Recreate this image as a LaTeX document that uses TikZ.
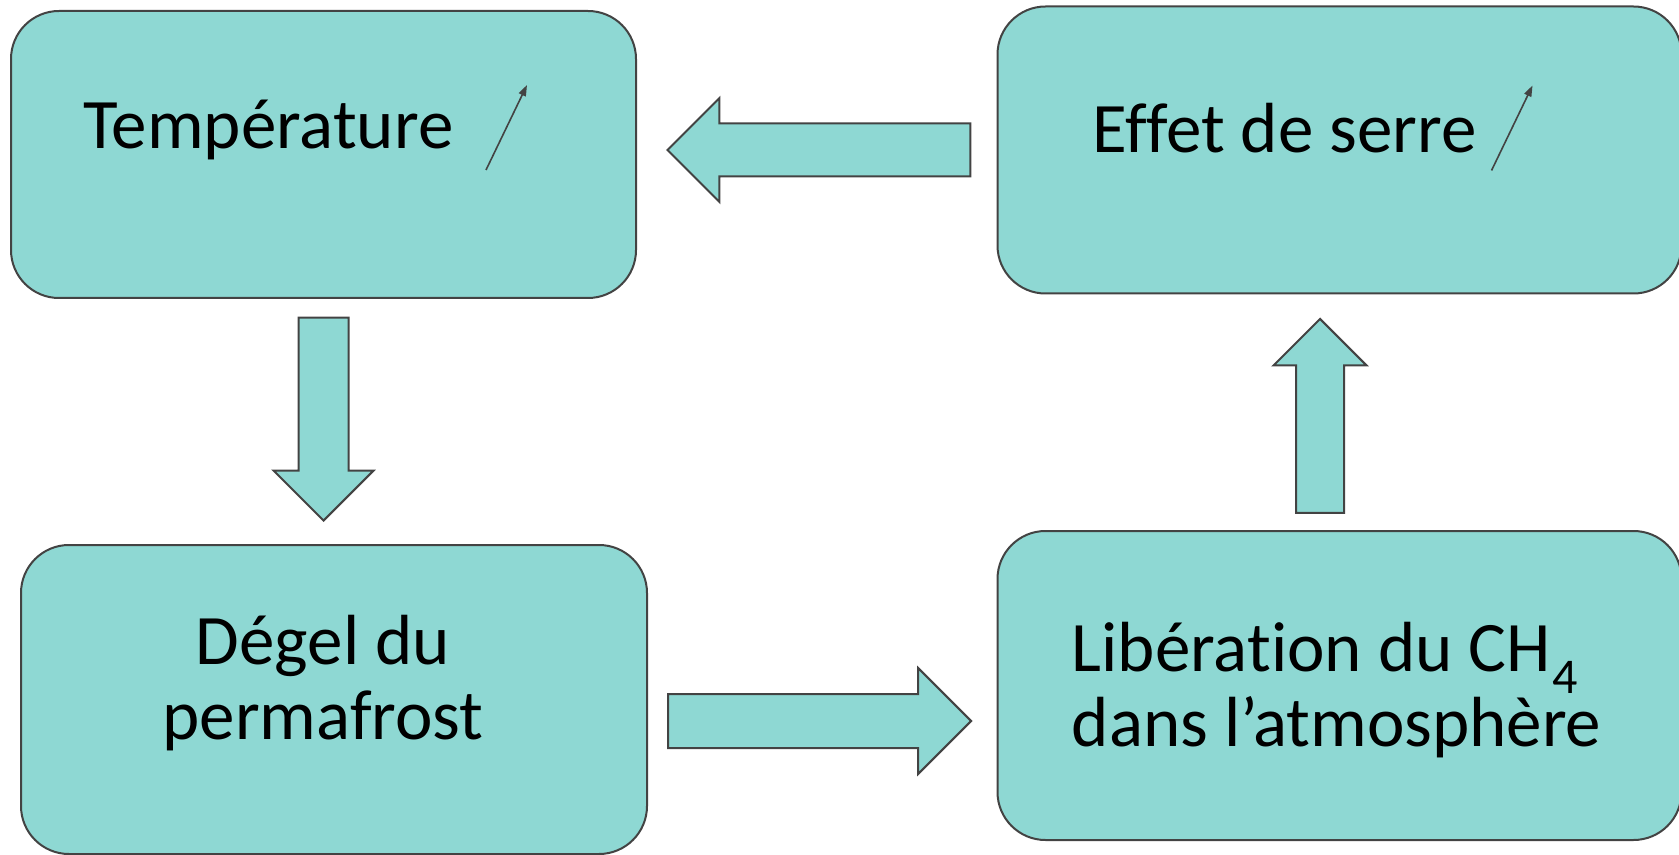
\documentclass[tikz,border=0pt]{standalone}
\usepackage{fontspec}
\setmainfont{Carlito}[Ligatures=NoCommon]
\usetikzlibrary{arrows.meta,calc,positioning,shapes.arrows}
\definecolor{Aqua}{HTML}{8ED8D3}
\definecolor{EdgeGray}{HTML}{434343}

\begin{document}
\begin{tikzpicture}[x=0.5pt,y=-0.5pt,
    stage/.style={rounded corners=24pt,fill=Aqua,draw=EdgeGray,line width=1pt,inner sep=0pt},
    caption/.style={inner sep=0pt,font=\fontsize{35.5}{37.5}\selectfont,align=center},
    fatarrow/.style={single arrow,fill=Aqua,draw=EdgeGray,line width=1pt,inner sep=0pt,anchor=tip,
                     single arrow head extend=12.75pt,minimum width=51pt,text height=25.5pt,text depth=0pt},
    rise/.style={-{Triangle[length=5.5pt,width=3.8pt]},EdgeGray,line width=0.8pt}]
    \useasboundingbox (0,0) rectangle (1679,855);
    \clip (0,0) rectangle (1679,855);
    % boxes
    \node[stage,minimum width=312.5pt,minimum height=143.5pt] (temp) at (323.5,154.5) {};
    \node[stage,minimum width=342pt,minimum height=143.5pt] (effet) at (1339.5,150) {};
    \node[stage,minimum width=313pt,minimum height=154.5pt] (degel) at (334,699.5) {};
    \node[stage,minimum width=342pt,minimum height=154.5pt] (liber) at (1339.5,685.5) {};
    % texts
    \node[caption,anchor=base west] (templbl) at ($(temp.north west)+(73,139)$) {Température};
    \node[caption,anchor=base west] (effetlbl) at ($(effet.north west)+(96,147)$) {Effet de serre};
    \node[caption] (degellbl) at ($(degel.center)+(-11,-16.5)$) {Dégel du\\permafrost};
    \node[caption,align=left,anchor=west] (liberlbl) at ($(liber.west)+(75,5)$)
        {Libération du CH\kern1pt\raisebox{-11pt}{\fontsize{25}{25}\selectfont 4}\\dans l’atmosphère};
    \draw[rise] ($(temp.north west)+(476,160)$) -- ($(temp.north west)+(517,75)$);
    \draw[rise] ($(effet.north west)+(495,165)$) -- ($(effet.north west)+(536,80)$);
    % block arrows
    \node[fatarrow,rotate=180,minimum height=151.5pt] (hot) at ($(temp.east)+(29,-4.5)$) {};
    \node[fatarrow,rotate=-90,minimum height=101.5pt,minimum width=49pt,text height=24pt,
          single arrow head extend=12.5pt] (thaw) at ($(temp.south |- degel.north)+(0,-22)$) {};
    \node[fatarrow,minimum height=151.5pt,minimum width=52pt,text height=26pt,
          single arrow head extend=13pt] (release) at ($(liber.west)+(-24,35.5)$) {};
    \node[fatarrow,rotate=90,minimum height=97pt,minimum width=45.5pt,text height=23pt,
          single arrow head extend=11.25pt] (boost) at ($(effet.south)+(-19.5,23)$) {};
\end{tikzpicture}
\end{document}
